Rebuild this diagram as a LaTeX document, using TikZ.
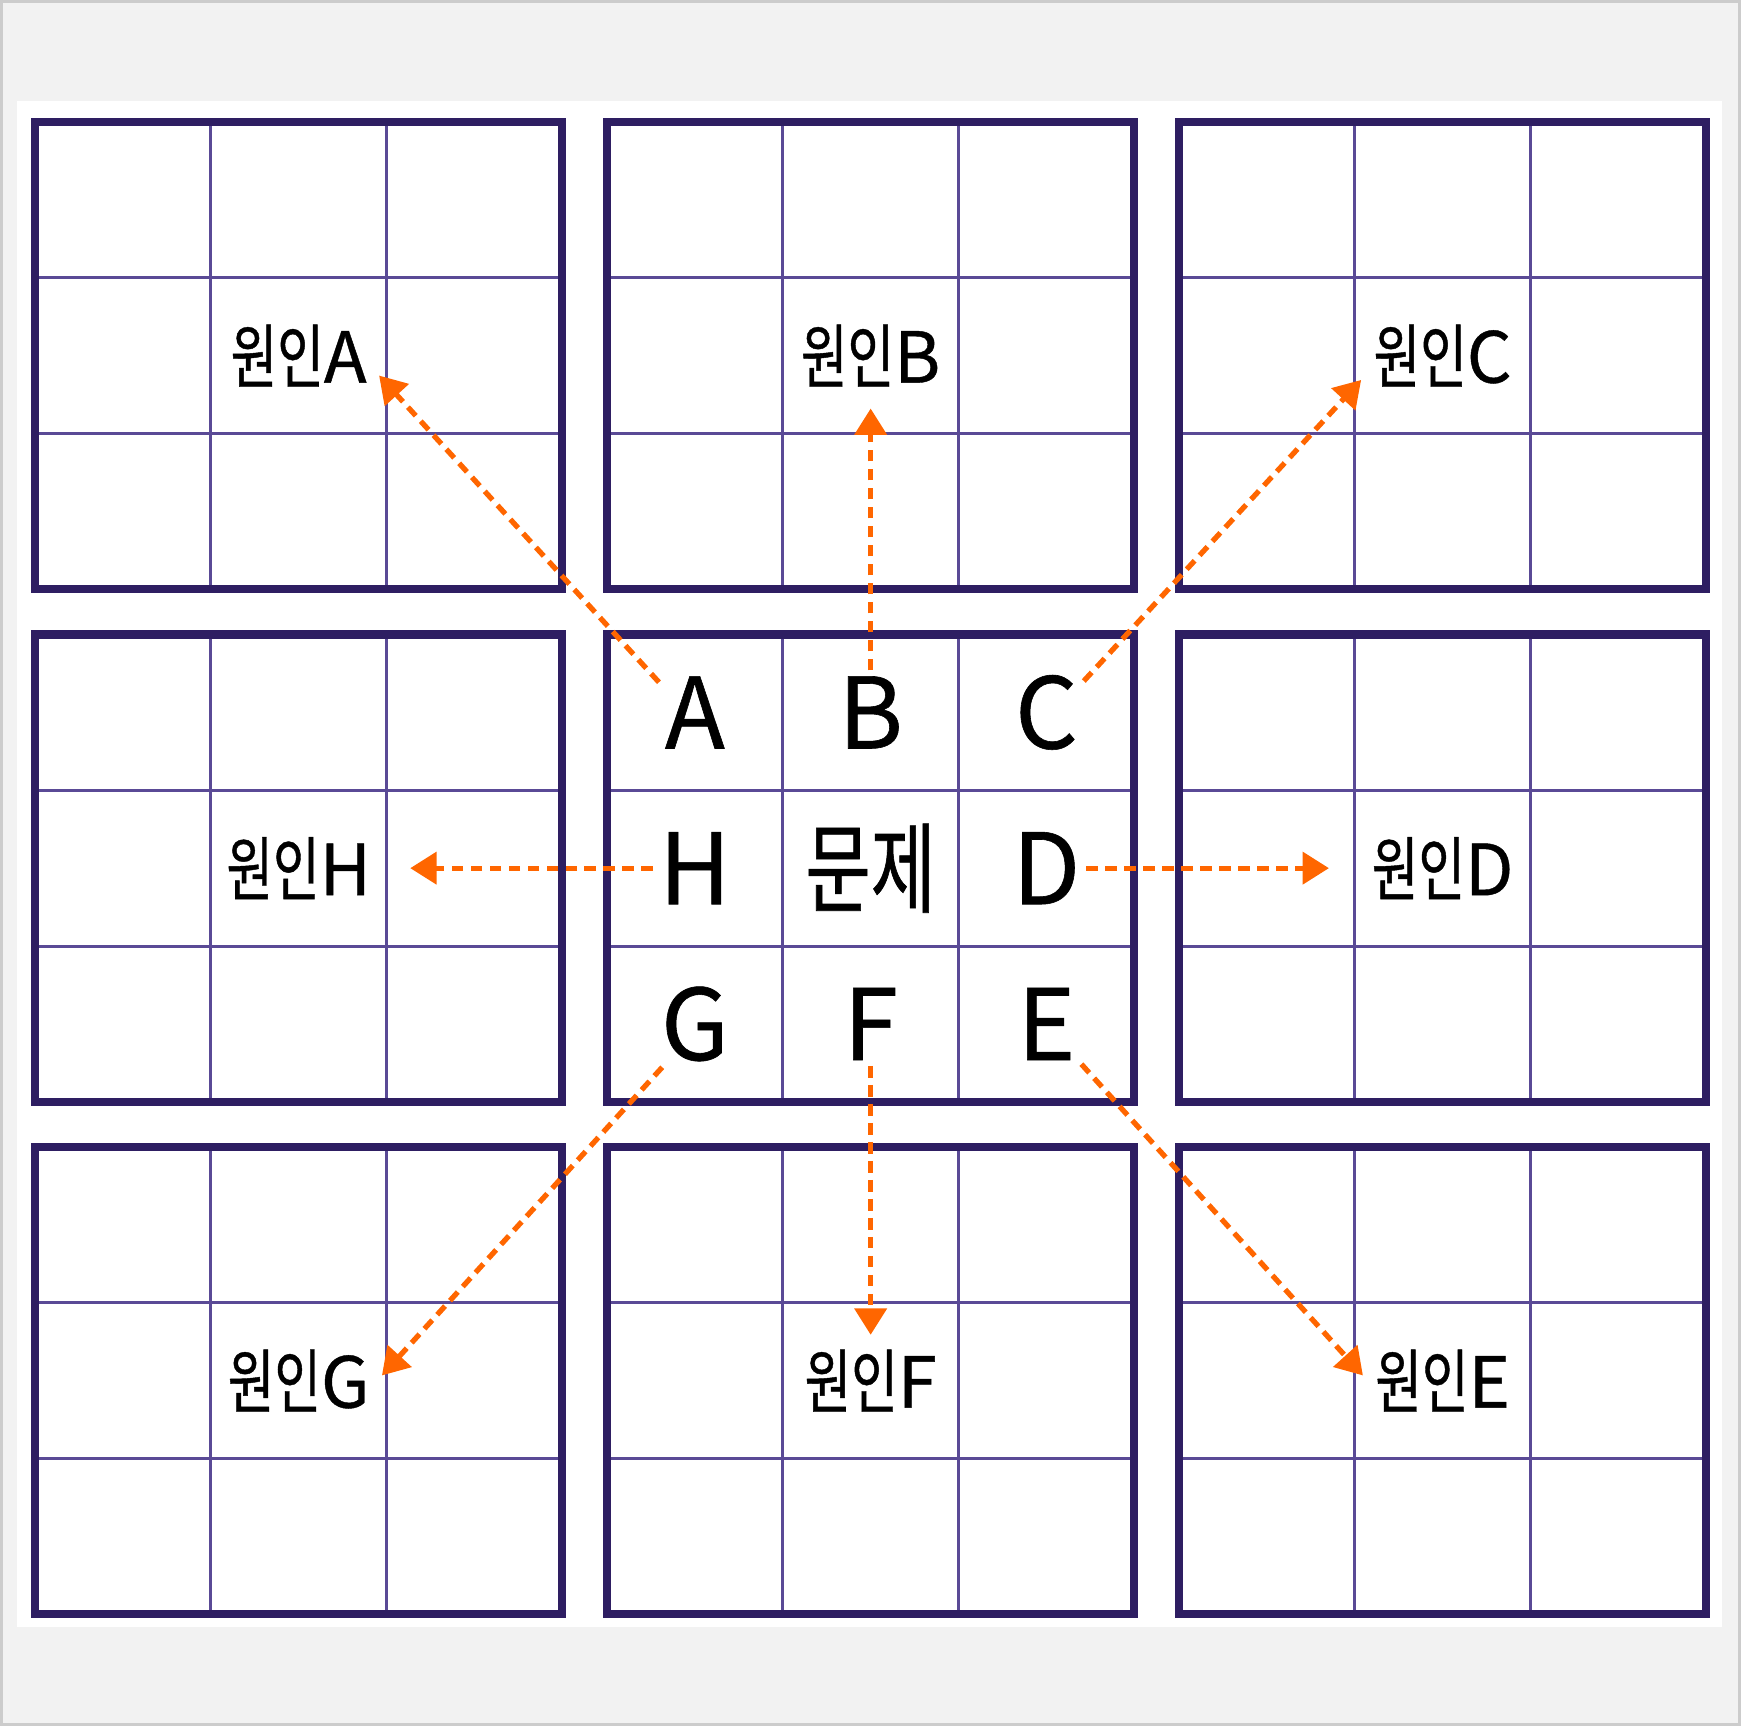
\documentclass[tikz,border=0pt]{standalone}
\usepackage{fontspec}
\setmainfont{Noto Sans CJK KR}[FakeBold=0.6]
\newfontfamily\kcond{Noto Sans CJK KR}[FakeStretch=0.72, FakeBold=0.6]
\usetikzlibrary{arrows.meta}

\definecolor{boxline}{HTML}{2E1E62}
\definecolor{gridline}{HTML}{5A4A96}
\definecolor{arrowc}{HTML}{FF6600}
\definecolor{pagebg}{HTML}{F2F2F2}
\definecolor{pageedge}{HTML}{CCCCCC}

\tikzset{
  cellgrid/.style={draw=gridline, line width=0.85pt},
  cellbox/.style={draw=boxline, line width=2.3pt},
  cause/.style={font=\fontsize{20}{24}\selectfont, inner sep=2pt},
  letter/.style={font=\fontsize{28}{32}\selectfont, inner sep=1.5pt},
  arr/.style={draw=arrowc, line width=1.5pt, dash pattern=on 3.3pt off 2.1pt,
    -{Triangle[length=7.5pt,width=9pt]}}
}

\begin{document}
\begin{tikzpicture}[x=0.01cm, y=-0.01cm]
        \fill[pageedge] (0,0) rectangle (1741,1726);
        \fill[pagebg] (3,3) rectangle (1738,1723);
        \fill[white] (17,101) rectangle (1722,1627);

        % outer boxes
        \foreach \c/\r/\l in {0/0/A, 1/0/B, 2/0/C, 2/1/D, 2/2/E, 1/2/F, 0/2/G, 0/1/H} {
            \begin{scope}[shift={(35+572*\c, 122+512.5*\r)}, x=1.7567cm, y=1.5567cm]
                \draw[cellgrid, step=1] (0,-3) grid (3,0);
                \draw[cellbox] (0,-3) rectangle (3,0);
                \node[cause] (lab\l) at (1.5,-1.5) {{\kcond 원인}\l};
            \end{scope}
        }

        % centre box
        \begin{scope}[shift={(607,634.5)}, x=1.7567cm, y=1.5567cm]
            \draw[cellgrid, step=1] (0,-3) grid (3,0);
            \draw[cellbox] (0,-3) rectangle (3,0);
            \foreach \i/\j/\l in {0/0/A, 1/0/B, 2/0/C, 0/1/H, 2/1/D, 0/2/G, 1/2/F, 2/2/E}
                \node[letter] (c\l) at (\i+0.5,-\j-0.5) {\l};
            \node[letter] (prob) at (1.5,-1.5) {\kcond 문제};
        \end{scope}

        \draw[arr, shorten >=2pt] (cA.140) -- (labA.-11);
        \draw[arr, shorten >=4pt] (cB.north) -- (labB.south);
        \draw[arr, shorten >=2pt] (cC.40) -- (labC.194);
        \draw[arr, shorten >=10pt] (cD.east) -- (labD.west);
        \draw[arr, shorten >=2pt] (cE.-49) -- (labE.west);
        \draw[arr, shorten >=2pt] (cF.south) -- (labF.north);
        \draw[arr, shorten >=2pt] (cG.233) -- (labG.east);
        \draw[arr, shorten >=9pt] (cH.west) -- (labH.east);
\end{tikzpicture}
\end{document}
